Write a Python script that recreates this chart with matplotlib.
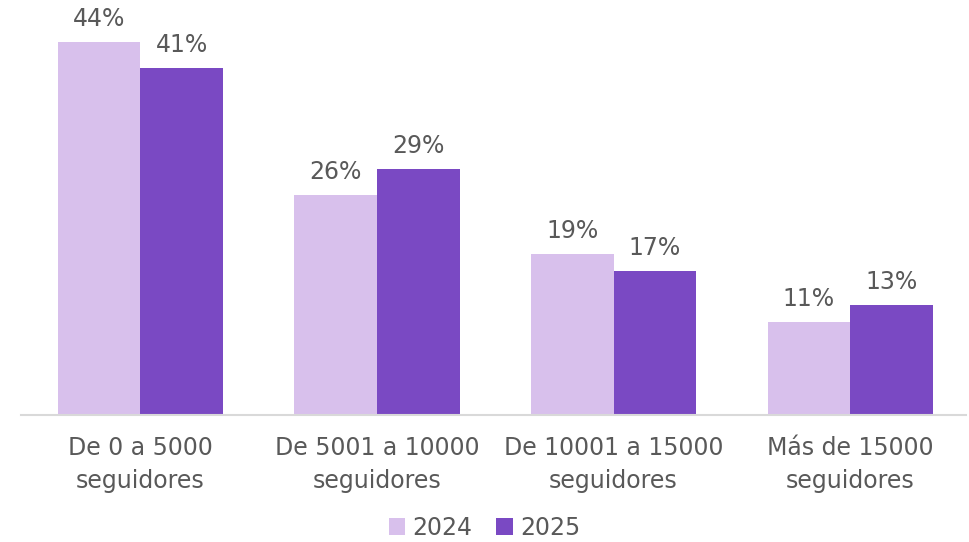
import matplotlib.pyplot as plt
import numpy as np

categorias = ["De 0 a 5000\nseguidores", "De 5001 a 10000\nseguidores",
              "De 10001 a 15000\nseguidores", "Más de 15000\nseguidores"]
valores_2024 = [44, 26, 19, 11]
valores_2025 = [41, 29, 17, 13]

color_2024 = "#D8C0EC"
color_2025 = "#7A49C3"
gris = "#595959"

plt.rcParams['font.family'] = ['DejaVu Sans']

fig = plt.figure(figsize=(9.69, 5.42), dpi=100)
ax = fig.add_axes([21 / 969, 1 - 415 / 542, 945 / 969, 415 / 542])

x = np.arange(len(categorias))
ancho = 0.349

b1 = ax.bar(x - ancho / 2, valores_2024, ancho, color=color_2024, label="2024")
b2 = ax.bar(x + ancho / 2, valores_2025, ancho, color=color_2025, label="2025")

# etiquetas de porcentaje encima de cada barra
for barras in (b1, b2):
    for b in barras:
        ax.annotate(f"{b.get_height():.0f}%", (b.get_x() + b.get_width() / 2, b.get_height()),
                    xytext=(0, 8), textcoords="offset points", ha="center", va="bottom",
                    fontsize=17, color=gris)

ax.set_xlim(-0.505, 3.49)
ax.set_ylim(0, 49)
ax.set_xticks(x)
ax.set_xticklabels(categorias, fontsize=17, color=gris, linespacing=1.5)
ax.tick_params(axis="x", length=0, pad=15)
ax.set_yticks([])
for lado in ["top", "right", "left"]:
    ax.spines[lado].set_visible(False)
ax.spines["bottom"].set_color("#D9D9D9")
ax.spines["bottom"].set_linewidth(1.5)

fig.legend(loc="center", bbox_to_anchor=(0.5, 1 - 528 / 542), ncol=2, frameon=False,
           fontsize=17, labelcolor=gris, handlelength=0.7, handleheight=0.7,
           handletextpad=0.3, columnspacing=1.0)

fig.savefig("out.png", dpi=100)
